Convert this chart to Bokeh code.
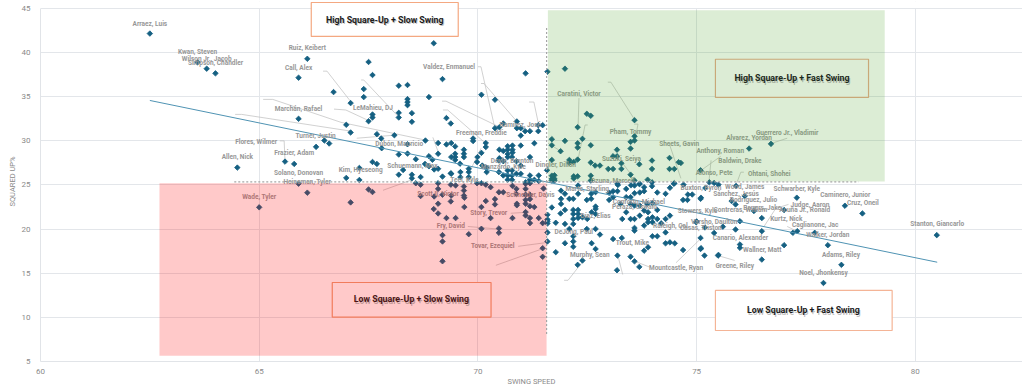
from bokeh.plotting import figure
from bokeh.models import Range1d, FixedTicker, BoxAnnotation, Label
from bokeh.core.properties import value
from bokeh.embed import file_html
from bokeh.resources import INLINE
import math

FONT = "Roboto"

# Players: (swing speed, squared-up %)
top_left = [
(62.5,42.16),(63.59,38.9),(63.8,38.18),(64.0,37.65),(66.1,39.3),(65.9,37.16),(66.7,35.53),(65.9,32.5),
(66.49,30.04),(66.6,29.7),(66.3,29.32),(65.59,27.65),(65.8,27.39),(64.5,26.97),(65.9,25.15),
(68.99,41.06),(67.5,38.94),(67.59,37.46),(71.09,37.65),(71.59,37.84),(69.19,37.0),(68.19,36.25),(68.39,36.33),
(67.39,35.87),(67.39,34.96),(68.88,34.96),(70.08,35.23),(70.39,34.66),(67.09,34.28),(68.39,34.73),(68.39,34.39),
(68.39,34.05),(68.19,33.18),(68.49,33.14),(68.19,32.65),(67.59,32.99),(67.59,32.65),(67.5,32.23),(68.49,32.16),
(69.28,32.58),(69.38,31.97),(66.99,31.82),(67.09,30.95),(67.69,30.76),(67.79,30.27),(68.09,30.64),(68.8,30.04),
(69.89,30.27),(69.89,29.98),(69.09,29.75),(69.28,29.6),(69.39,29.75),(69.48,29.37),(68.39,29.62),(67.8,29.17),
(70.18,29.75),(70.18,29.3),(69.68,29.0),(69.68,28.54),(69.68,28.16),(69.48,28.54),(69.48,28.16),(69.39,28.16),(69.48,27.84),
(69.09,28.54),(68.19,28.45),(68.39,28.56),(68.58,27.92),(68.88,28.26),(69.99,28.16),(70.08,28.64),
(70.49,29.0),(70.58,28.86),(70.68,29.39),(70.79,29.47),(70.79,29.0),(70.68,29.0),(70.79,28.67),(70.68,28.52),
(70.98,29.47),(71.29,29.73),(71.19,28.16),(70.49,28.03),(70.39,31.44),(70.49,31.55),(70.58,31.97),(70.89,32.2),
(70.89,31.44),(70.98,31.44),(71.08,31.1),(71.19,31.1),(70.98,30.6),(71.38,31.1),(71.38,31.78),(71.48,31.78),
(67.59,27.61),(67.69,27.39),(67.29,26.93),(66.99,25.8),(67.29,25.57),(68.19,26.17),(68.29,26.7),(68.49,26.17),
(68.49,25.76),(68.69,25.9),(68.79,27.39),(68.88,27.12),(69.19,25.95),(69.38,26.33),(69.6,26.46),(69.6,25.89),
(69.79,26.84),(69.79,26.46),(69.79,25.89),(69.39,26.27),(69.09,26.84),(69.0,26.76),(68.96,27.86),(69.59,27.42),
(69.98,27.6),(70.1,27.2),(70.2,26.95),(70.2,26.46),(70.48,27.78),(70.58,27.7),(70.68,28.16),(70.78,28.16),
(70.98,27.2),(70.88,27.7),(70.48,26.46),(70.58,26.08),(70.68,26.65),(70.78,26.65),(70.68,26.08),(70.78,26.08),
(70.68,25.59),(70.78,25.59),(70.88,26.27),(70.98,26.27),(71.19,26.08),(71.19,25.59),(71.39,26.08),(71.29,25.59),
(71.58,26.67),(71.09,25.3),(71.19,25.4),(71.39,25.45),
]
bottom_left = [
(65.0,22.47),(66.1,24.13),(67.09,23.03),(68.69,23.75),(68.99,22.27),(69.09,22.88),(69.09,21.78),(69.38,23.14),
(69.28,21.25),(69.49,21.25),(69.69,23.56),(69.69,22.5),(70.08,22.5),(70.18,23.18),(70.39,23.4),(70.39,22.8),
(70.29,21.25),(70.79,21.25),(70.89,22.88),(70.89,22.7),(71.09,22.88),(71.09,21.93),(71.09,21.55),(71.19,23.4),
(71.19,22.6),(71.29,22.5),(71.19,21.25),(71.19,20.68),(71.39,21.25),(71.48,20.68),(71.59,21.63),(71.59,21.1),
(71.59,20.9),(71.59,20.64),(71.59,19.62),(71.59,18.6),(71.48,17.84),(71.48,16.86),(70.48,20.08),(70.48,19.58),
(70.08,20.04),(69.79,19.43),(69.19,19.32),(69.19,18.6),(69.19,16.36),
(69.68,24.83),(69.68,24.37),(69.68,23.8),(69.39,23.8),(69.49,24.95),(69.98,25.2),(70.08,25.2),(70.29,24.75),
(70.48,24.18),(70.58,24.18),(70.88,24.56),(70.88,23.99),(71.09,25.13),(71.19,25.2),(71.09,24.56),(71.09,23.9),
(71.19,23.9),(71.09,23.31),(69.0,23.7),(69.19,23.9),(69.09,24.56),(68.58,25.2),(68.69,25.03),(69.09,25.2),
(69.38,25.04),(67.5,24.5),(67.59,24.2),(70.18,25.04),(71.5,24.6),(70.79,24.9),
]
top_right = [
(71.99,38.18),(72.28,31.55),(72.49,33.07),(72.58,32.84),(73.58,32.35),(73.58,30.53),(73.58,30.04),(73.49,29.89),
(73.49,29.13),(72.39,30.23),(72.28,29.73),(72.28,29.24),(72.58,29.5),(71.69,30.19),(71.99,30.0),(71.69,29.5),
(71.89,28.83),(73.18,29.0),(73.09,28.26),(73.18,28.26),(72.28,27.88),(72.09,27.84),(72.19,27.61),(72.09,27.5),
(71.69,27.84),(73.28,27.46),(72.58,27.54),(72.68,27.2),(72.79,27.2),(72.98,26.82),(73.09,26.82),(73.28,26.82),
(73.69,27.35),(73.98,27.77),(73.98,26.82),(74.38,28.07),(74.38,26.82),(74.49,26.82),(74.59,27.58),(74.64,27.5),
(72.58,26.06),(73.49,26.17),(71.69,26.06),(71.75,26.1),(71.69,25.7),(71.75,25.7),(71.69,25.5),(71.75,25.5),
(72.19,25.98),(72.19,25.75),(72.28,25.98),(72.58,25.5),(73.88,25.6),(73.98,25.3),(73.58,25.5),(75.09,26.67),
(76.7,29.66),(76.2,29.13),
]
bottom_right = [
(73.2,25.0),(73.69,25.1),(73.5,24.96),(74.49,25.2),(71.9,24.36),(72.29,24.94),(73.19,25.13),(73.39,24.56),(73.09,24.3),
(73.19,24.3),(73.0,24.11),(73.09,23.62),(73.0,23.31),(72.69,24.19),(72.69,22.56),(72.69,22.29),(72.69,21.72),
(72.59,24.0),(72.59,23.43),(72.49,23.31),(72.18,23.43),(72.09,23.43),(72.29,24.0),(71.99,24.0),(71.9,23.43),
(71.99,22.18),(71.9,22.86),(72.29,22.18),(72.29,21.72),(72.29,21.27),(72.18,22.18),(72.18,21.72),(72.18,21.16),
(72.18,20.59),(71.99,20.59),(72.6,21.91),(72.5,21.16),(72.39,21.34),(72.69,20.02),(72.49,20.02),(72.09,20.02),
(72.79,19.38),(72.18,19.19),(72.18,18.6),(72.18,18.0),(71.99,18.4),(72.6,18.4),(72.69,17.75),(71.78,20.72),
(71.89,21.78),(71.69,22.46),(71.78,17.39),(72.39,16.44),(72.28,15.95),(73.18,15.34),(73.69,15.72),
(73.39,23.62),(73.49,23.62),(73.58,24.07),(73.7,24.15),(73.8,24.3),(73.98,24.87),(73.58,24.94),(73.7,25.13),
(73.8,24.75),(74.1,24.15),(74.29,24.0),(74.39,24.68),(74.48,25.13),(73.26,22.86),(73.49,22.86),(73.58,22.67),
(73.39,21.91),(73.7,22.67),(73.87,22.86),(73.99,22.94),(73.8,22.1),(73.89,21.91),(74.1,22.18),(73.3,21.15),
(73.49,21.15),(73.58,21.15),(73.7,21.53),(73.89,21.15),(73.99,21.34),(73.99,20.78),(74.1,21.15),(74.29,21.15),
(74.39,21.53),(74.19,20.66),(73.89,20.78),(73.8,20.4),(73.58,20.14),(73.58,19.83),(74.29,19.63),(73.99,19.19),
(74.1,19.19),(73.09,18.88),(73.29,19.0),(73.8,17.56),(73.89,17.94),(74.29,18.39),(74.39,18.5),(74.5,18.39),
(74.69,17.63),(75.09,19.0),(75.09,17.75),(74.99,20.78),(75.4,19.57),(75.6,20.28),(75.18,17.0),(75.49,17.0),
(73.19,17.0),(73.49,16.88),(73.58,16.35),(74.8,23.92),(74.9,23.92),(74.79,23.31),(74.69,23.31),(75.09,23.43),
(75.29,25.3),(75.4,25.23),(75.5,25.04),(75.2,24.66),(75.9,24.89),(74.7,25.04),(75.1,23.56),(75.8,23.18),
(75.89,22.8),(76.1,23.75),(77.29,23.56),(78.39,22.65),(78.79,21.78),(80.49,19.32),(77.0,22.16),(76.31,22.05),
(76.49,21.25),(76.49,19.77),(75.99,20.9),(75.89,19.96),(75.19,20.19),(75.0,20.87),(75.1,17.84),(75.5,17.08),
(75.99,18.26),(75.99,17.88),(76.49,16.55),(77.0,18.18),(77.2,19.58),(77.3,19.77),(77.7,19.58),(78.0,18.18),
(78.31,15.95),(77.9,13.9),
]

names = ["Arraez, Luis","Kwan, Steven","Wilson Jr., Jacob","Simpson, Chandler","Ruiz, Keibert","Call, Alex",
"Marchán, Rafael","Turner, Justin","Flores, Wilmer","Frazier, Adam","Allen, Nick","Solano, Donovan","Heineman, Tyler",
"Wade, Tyler","LeMahieu, DJ","Valdez, Enmanuel","Caratini, Victor","Ramírez, José","Pham, Tommy","Freeman, Freddie",
"Dubón, Mauricio","Sheets, Gavin","Suzuki, Seiya","Doyle, Brenton","Manzardo, Kyle","Dingler, Dillon","Kim, Hyeseong",
"Schuemann, Max","Teel, Kyle","Ozuna, Marcell","Marte, Starling","Scott II, Victor","Schneider, Davis","Story, Trevor",
"Fry, David","Tovar, Ezequiel","DeJong, Paul","Díaz, Elias","Murphy, Sean","Trout, Mike","Mountcastle, Ryan",
"Conforto, Michael","Peraza, Oswald","Raleigh, Cal","Stanton, Giancarlo","Noel, Jhonkensy","Adams, Riley","Walker, Jordan",
"Caglianone, Jac","Kurtz, Nick","Acuña Jr., Ronald","Judge, Aaron","Cruz, Oneil","Caminero, Junior","Schwarber, Kyle",
"Wood, James","Ohtani, Shohei","Baldwin, Drake","Alonso, Pete","Anthony, Roman","Alvarez, Yordan","Guerrero Jr., Vladimir",
"Buxton, Byron","Sánchez, Jesús","Rodríguez, Julio","Bauers, Jake","Contreras, William","Stowers, Kyle","Varsho, Daulton",
"Casas, Triston","Canario, Alexander","Wallner, Matt","Greene, Riley"]
label_x = [62.5,63.59,63.8,64.0,66.1,65.9,65.9,66.29,64.93,65.8,64.5,65.9,66.1,65.0,67.6,69.34,72.31,70.97,73.49,70.08,
68.2,74.6,73.28,70.78,70.58,71.78,67.32,68.5,69.69,73.08,72.5,69.09,71.2,70.25,69.38,70.34,72.19,72.69,72.56,73.53,74.53,
73.68,73.58,74.4,80.5,77.9,78.3,78.0,77.71,77.05,77.47,77.59,78.8,78.4,77.29,76.1,76.66,75.99,75.4,75.54,76.2,77.07,
75.1,75.9,76.3,76.5,76.0,75.02,75.4,75.1,76.0,76.5,75.87]
label_y = [43.3,40.04,39.32,38.83,40.5,38.3,33.64,30.5,29.85,28.64,28.14,26.33,25.3,23.67,33.71,38.37,35.34,31.8,30.98,30.87,
29.62,29.6,28.0,27.73,27.05,27.27,26.7,27.2,25.6,25.5,24.55,24.0,23.83,21.82,20.34,18.07,19.73,21.44,17.08,18.45,15.55,
23.03,22.5,20.34,20.53,15.04,17.08,19.32,20.42,21.14,22.12,22.77,22.92,23.83,24.58,24.8,26.29,27.73,26.4,28.83,30.27,30.87,
24.62,23.94,23.27,22.39,22.12,22.05,20.8,20.11,19.0,17.69,15.87]

leader_xs = [[66.46,66.55,67.1],[65.09,65.31,66.87,68.79],[64.45,64.6,67.1],[66.71,66.98,67.5],[67.33,67.39,68.19],
[70.0,70.07,70.39],[70.07,70.14,70.89],[71.17,71.28,71.39],[69.18,69.27,70.5],[69.2,69.31,70.18],[72.97,73.04,73.59],
[72.31,72.29],[72.51,72.45,72.29],[73.57,73.66,73.59],[67.23,68.1],[68.97,69.11],[70.07,69.79],[65.47,65.57,65.59],
[71.6,71.9],[74.37,74.64],[73.31,73.5],[75.55,75.1],[75.33,75.28],[76.08,76.01,75.9],[77.07,76.7],[70.75,71.1],
[69.77,70.48],[70.92,71.6],[70.41,71.49],[71.97,72.06,72.4],[73.95,73.59],[73.31,73.2],[74.53,75.1],[75.87,75.49],
[76.54,76.81,77.1],[77.07,77.3],[67.83,68.47]]
leader_ys = [[37.9,37.9,34.4],[34.7,34.7,32.1,30.1],[33.0,33.0,31.1],[33.6,33.5,32.3],[36.9,36.9,32.7],
[38.4,38.4,31.4],[36.5,36.5,32.2],[34.4,34.4,31.8],[34.5,34.5,31.55],[33.5,33.5,29.7],[36.65,36.65,32.35],
[34.85,31.55],[31.8,31.8,27.9],[31.9,31.9,30.05],[30.3,30.65],[30.4,28.5],[29.15,26.3],[30.0,30.0,27.7],
[29.75,28.8],[29.75,25.75],[27.45,26.2],[28.25,26.65],[27.8,25.3],[26.45,26.45,25.0],[30.3,29.7],[21.8,21.9],
[20.3,20.0],[18.05,18.5],[15.9,17.8],[14.2,14.2,16.35],[15.65,16.35],[14.85,17.0],[16.2,18.95],[16.45,17.0],
[20.3,22.35,22.8],[20.3,19.75],[24.4,25.55]]

trend_x = [62.5, 80.5]
trend_y = [34.58, 16.25]
avg_swing = 71.57
avg_square = 25.35
x_ticks = [60, 65, 70, 75, 80]
y_ticks = [5, 10, 15, 20, 25, 30, 35, 40, 45]

points = top_left + bottom_left + top_right + bottom_right
swing = [a for a, b in points]
square = [b for a, b in points]

p = figure(width=1022, height=388, output_backend="svg", toolbar_location=None,
           x_range=Range1d(60, 82.45), y_range=Range1d(5, 45.793),
           min_border_left=40, min_border_right=0, min_border_top=1, min_border_bottom=27,
           outline_line_color=None, background_fill_color="white",
           styles={"position": "absolute", "left": "0", "top": "0"})

p.xaxis.ticker = FixedTicker(ticks=x_ticks)
p.yaxis.ticker = FixedTicker(ticks=y_ticks)
p.yaxis.bounds = (5, 45)
for ax in (p.xaxis[0], p.yaxis[0]):
    ax.major_tick_line_color = None
    ax.minor_tick_line_color = None
    ax.axis_line_color = "#e1e4e8"
    ax.major_label_text_font = FONT
    ax.major_label_text_font_size = "8px"
    ax.major_label_text_color = "#8a8a8a"
    ax.axis_label_text_font = FONT
    ax.axis_label_text_font_size = "7.5px"
    ax.axis_label_text_font_style = "normal"
    ax.axis_label_text_color = "#8a8a8a"
    ax.axis_label_text_line_height = 0.8
p.xaxis.axis_label = "SWING SPEED"
p.yaxis.axis_label = "SQUARED UP%"
p.xaxis.major_label_standoff = 1
p.yaxis.major_label_standoff = 4
p.xaxis.axis_label_standoff = 0
p.yaxis.axis_label_standoff = 2
p.grid.grid_line_color = "#e3e6ea"
p.grid.grid_line_width = 1

p.quad(left=[60], right=[82.45], top=[45.793], bottom=[45.06], fill_color="white", line_color=None)
p.multi_line(leader_xs, leader_ys, line_color="#bdbdbd", line_width=0.7)
p.scatter(swing, square, marker="square", angle=math.pi / 4, size=3.9,
          fill_color="#156082", line_color="#156082", line_width=0.8)
p.line(trend_x, trend_y, line_color="#4f93b3", line_width=1)
p.text(x=label_x, y=label_y, text=names, text_font=value(FONT), text_font_size="6.5px", text_font_style="bold",
       text_color="#979797", text_align="center", text_baseline="middle")

p.quad(left=[62.72], right=[71.57], top=[25.2], bottom=[5.65], fill_color="#ff0000", fill_alpha=0.21, line_color=None)
p.quad(left=[71.6], right=[79.3], top=[44.8], bottom=[25.4], fill_color="#4ea72e", fill_alpha=0.2, line_color=None)
p.line([avg_swing, avg_swing], [42.8, 8.0], line_color="#a6a6a6", line_width=1.2, line_dash="2 2")
p.line([64.43, 78.7], [avg_square, avg_square], line_color="#a6a6a6", line_width=1.2, line_dash="2 2")

boxes = [
    (66.19, 69.55, 45.68, 41.83, "#f4a881", "#ffffff"),
    (75.43, 78.93, 39.25, 34.92, "#c9a878", "#dcecd5"),
    (66.67, 70.3, 13.95, 10.02, "#f17c5c", "#ffc9c9"),
    (75.43, 79.47, 13.05, 8.51, "#f4b496", "#ffffff"),
]
for l, r, t, b, lc, fc in boxes:
    p.add_layout(BoxAnnotation(left=l, right=r, top=t, bottom=b, line_color=lc, line_width=1.2, line_alpha=1,
                               fill_color=fc, fill_alpha=1, level="overlay"))

box_texts = [("High Square-Up + Slow Swing", 67.87, 43.75), ("High Square-Up + Fast Swing", 77.18, 37.07),
             ("Low Square-Up + Slow Swing", 68.48, 12.03), ("Low Square-Up + Fast Swing", 77.44, 10.78)]
box_colors = ["#1c1c1c", "#1c2a1c", "#4a1414", "#1c1c1c"]
for (t, x, y), c in zip(box_texts, box_colors):
    p.add_layout(Label(x=x, y=y, text=t, x_offset=1, y_offset=-1.5, text_font=FONT, text_font_size="8.8px",
                       text_font_style="bold", text_color="#000000", text_alpha=0.25,
                       text_align="center", text_baseline="middle", level="overlay"))
    p.add_layout(Label(x=x, y=y, text=t, text_font=FONT, text_font_size="8.8px", text_font_style="bold",
                       text_color=c, text_align="center", text_baseline="middle", level="overlay"))

open("out.html", "w").write(file_html(p, INLINE))
